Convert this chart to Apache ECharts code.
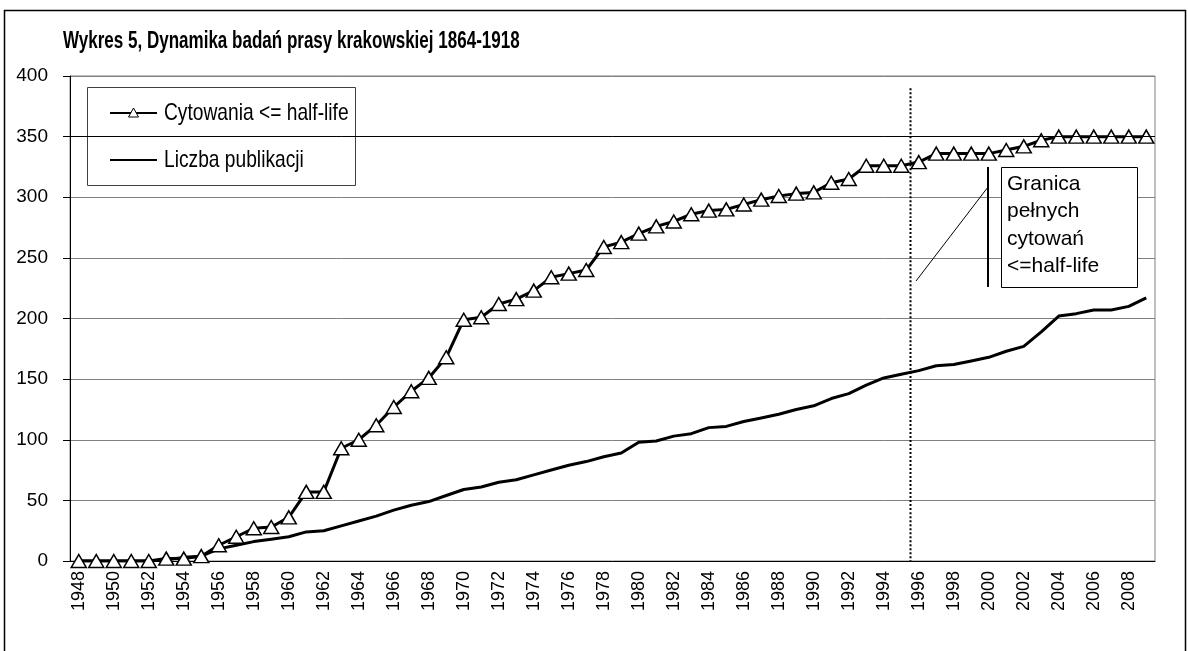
<!DOCTYPE html>
<html>
<head>
<meta charset="utf-8">
<title>Wykres 5</title>
<script src="https://cdn.jsdelivr.net/npm/echarts@6/dist/echarts.min.js"></script>
<style>
  html, body { margin: 0; padding: 0; background: #fff; overflow: hidden; }
  #chart { width: 1188px; height: 651px; }
</style>
</head>
<body>
<div id="chart"></div>
<script>
// lata 1948-2009
const years = [];
for (let y = 1948; y <= 2009; y++) years.push(String(y));

const yTicks = [0, 50, 100, 150, 200, 250, 300, 350, 400];

const cytowania = [
	0, 0, 0, 0, 0, 2, 2, 4, 13, 20,
	27, 28, 36, 57, 57, 93, 100, 112, 127, 140,
	151, 168, 199, 201, 212, 216, 223, 234, 237, 240,
	259, 263, 270, 276, 280, 286, 289, 290, 294, 298,
	301, 303, 304, 312, 315, 326, 326, 326, 329, 336,
	336, 336, 336, 339, 342, 347, 350, 350, 350, 350,
	350, 350,
];

const publikacje = [
	0, 0, 0, 0, 0, 1, 3, 4, 10, 13,
	16, 18, 20, 24, 25, 29, 33, 37, 42, 46,
	49, 54, 59, 61, 65, 67, 71, 75, 79, 82,
	86, 89, 98, 99, 103, 105, 110, 111, 115, 118,
	121, 125, 128, 134, 138, 145, 151, 154, 157, 161,
	162, 165, 168, 173, 177, 189, 202, 204, 207, 207,
	210, 217,
];

const seriesNames = ["Cytowania <= half-life", "Liczba publikacji"];
const titleText = "Wykres 5, Dynamika badań prasy krakowskiej 1864-1918";
const boundaryYears = ["1995", "1996"];
const boundaryTop = 390;
const noteLines = ["Granica", "pełnych", "cytowań", "<=half-life"];

const FONT = "'Liberation Sans', Arial, sans-serif";

let chart = echarts.init(document.getElementById("chart"));

// legenda i tytul sa sciesnione jak w oryginale
function legendGraphic() {
	return {
		type: "group",
		z: 20,
		children: [
			{
				type: "rect",
				shape: { x: 87.5, y: 87.5, width: 268, height: 98 },
				style: { fill: "#fff", stroke: "#404040", lineWidth: 1 },
			},
			{
				type: "line",
				shape: { x1: 110, y1: 113, x2: 157, y2: 113 },
				style: { stroke: "#000", lineWidth: 2 },
			},
			{
				type: "polygon",
				shape: { points: [[133.5, 108], [138.5, 117], [128.5, 117]] },
				style: { fill: "#fff", stroke: "#000", lineWidth: 1 },
			},
			{
				type: "line",
				shape: { x1: 110, y1: 160, x2: 157, y2: 160 },
				style: { stroke: "#000", lineWidth: 2 },
			},
			{
				type: "text",
				x: 164,
				y: 113,
				scaleX: 0.8,
				style: { text: seriesNames[0], fontFamily: FONT, fontSize: 24, fill: "#000", verticalAlign: "middle" },
			},
			{
				type: "text",
				x: 164,
				y: 160,
				scaleX: 0.8,
				style: { text: seriesNames[1], fontFamily: FONT, fontSize: 24, fill: "#000", verticalAlign: "middle" },
			},
		],
	};
}

let option = {
	animation: false,
	backgroundColor: "#fff",
	grid: {
		left: 70,
		right: 33,
		top: 76,
		bottom: 90,
		show: true,
		borderColor: "#808080",
		borderWidth: 1,
	},
	xAxis: {
		type: "category",
		data: years,
		boundaryGap: true,
		axisLine: { lineStyle: { color: "#000", width: 1 } },
		axisTick: { interval: 0, length: 6, lineStyle: { color: "#000" } },
		axisLabel: {
			interval: 1,
			rotate: 90,
			margin: 10,
			fontFamily: FONT,
			fontSize: 18,
			color: "#000",
		},
		splitLine: { show: false },
	},
	yAxis: {
		type: "value",
		min: yTicks[0],
		max: yTicks[yTicks.length - 1],
		interval: 50,
		axisLine: { show: true, lineStyle: { color: "#000", width: 1 } },
		axisTick: { show: true, length: 7, lineStyle: { color: "#000" } },
		axisLabel: { margin: 22, fontFamily: FONT, fontSize: 19, color: "#000" },
		splitLine: { lineStyle: { color: "#808080", width: 1 } },
	},
	series: [
		{
			name: seriesNames[1],
			type: "line",
			data: publikacje,
			symbol: "none",
			lineStyle: { color: "#000", width: 3 },
			itemStyle: { color: "#000" },
			z: 2,
			markLine: {
				silent: true,
				symbol: "none",
				label: { show: false },
				data: [{ yAxis: 350, lineStyle: { color: "#000", width: 1, type: "solid" } }],
			},
		},
		{
			name: seriesNames[0],
			type: "line",
			data: cytowania,
			symbol: "triangle",
			symbolSize: [15, 13],
			showAllSymbol: true,
			lineStyle: { color: "#000", width: 3 },
			itemStyle: { color: "#fff", borderColor: "#000", borderWidth: 1.5 },
			z: 3,
		},
	],
	graphic: [
		{
			id: "frame",
			type: "rect",
			shape: { x: 4.5, y: 10.5, width: 1181, height: 700 },
			style: { fill: null, stroke: "#000", lineWidth: 1.5 },
			silent: true,
			z: 0,
		},
		{
			id: "title",
			type: "text",
			x: 63,
			y: 42,
			scaleX: 0.74,
			style: {
				text: titleText,
				fontFamily: FONT,
				fontWeight: "bold",
				fontSize: 23,
				fill: "#000",
				verticalAlign: "middle",
			},
			z: 20,
		},
		legendGraphic(),
		{
			type: "line",
			shape: { x1: 988, y1: 167, x2: 988, y2: 287 },
			style: { stroke: "#000", lineWidth: 2 },
			z: 10,
		},
		{
			type: "line",
			shape: { x1: 916, y1: 281, x2: 988, y2: 187 },
			style: { stroke: "#000", lineWidth: 1 },
			z: 10,
		},
		{
			type: "rect",
			shape: { x: 1001.5, y: 167.5, width: 136, height: 120 },
			style: { fill: "#fff", stroke: "#000", lineWidth: 1 },
			z: 10,
		},
		{
			type: "text",
			x: 1007,
			y: 170,
			style: {
				text: noteLines.join("\n"),
				fontFamily: FONT,
				fontSize: 21,
				lineHeight: 27.5,
				fill: "#000",
			},
			z: 11,
		},
	],
};

chart.setOption(option);

// kropkowana granica miedzy 1995 a 1996, liczona ze skali osi
let xa = chart.convertToPixel({ xAxisIndex: 0 }, boundaryYears[0]);
let xb = chart.convertToPixel({ xAxisIndex: 0 }, boundaryYears[1]);
let xLine = Math.round((xa + xb) / 2) + 0.5;
let yTop = chart.convertToPixel({ yAxisIndex: 0 }, boundaryTop);
let yBottom = chart.convertToPixel({ yAxisIndex: 0 }, 0);

chart.setOption({
	graphic: [
		{
			id: "boundary",
			type: "line",
			shape: { x1: xLine, y1: yTop, x2: xLine, y2: yBottom },
			style: { stroke: "#000", lineWidth: 2, lineDash: [2, 2] },
			silent: true,
			z: 5,
		},
	],
});
</script>
</body>
</html>
